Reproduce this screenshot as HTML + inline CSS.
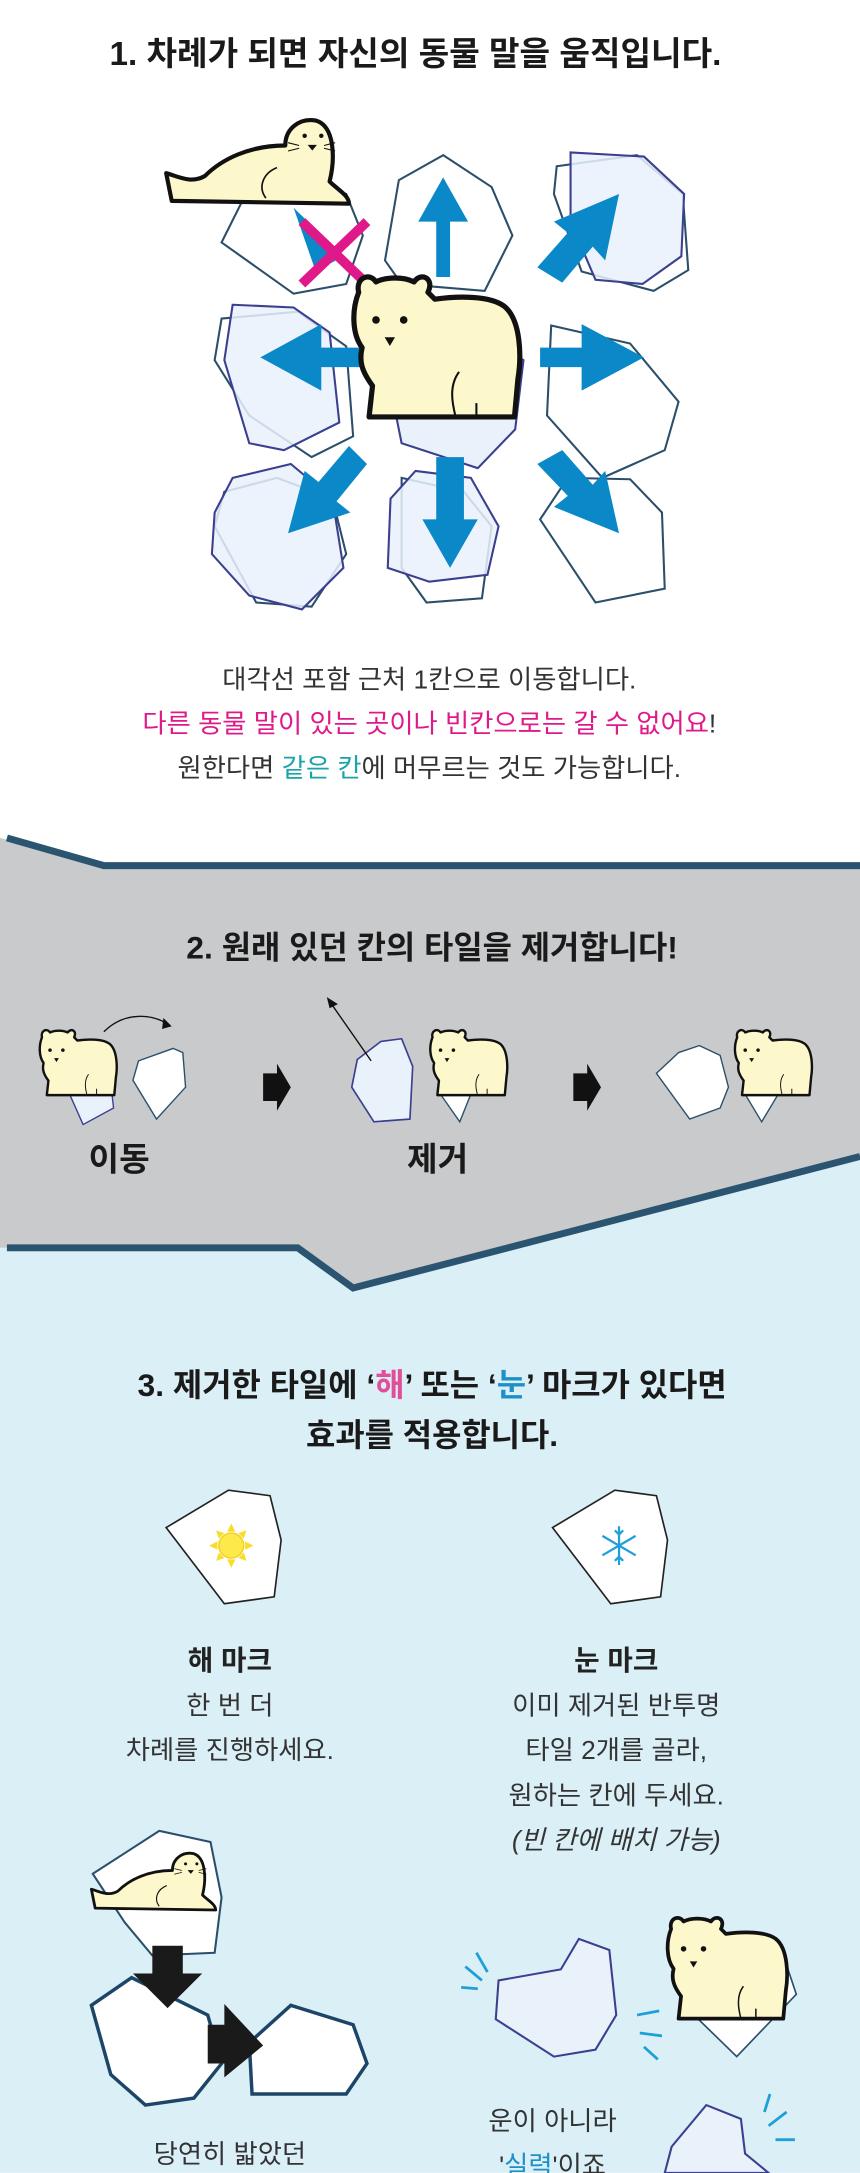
<!DOCTYPE html>
<html><head><meta charset="utf-8"><style>
html,body{margin:0;padding:0;background:#fff;}
svg{display:block;}
text{font-family:"Liberation Sans","Noto Sans CJK KR",sans-serif;}
</style></head><body>
<svg width="860" height="2173" viewBox="0 0 621 1569" xmlns="http://www.w3.org/2000/svg">
<defs>
<g id="bear">
<path d="M4,12 C2,4 10,0 14,6 C20,3 30,3 36,6 C40,0 48,4 44,12 L48,16 C62,14 80,14 88,20 C98,28 98,50 96,62 L94,84 L10,84 L12,66 C6,58 4,52 6,44 C0,36 0,22 4,12 Z" fill="#fdf7cc" stroke="#111" stroke-width="3" stroke-linejoin="round"/>
<circle cx="14" cy="28" r="2.2" fill="#111"/><circle cx="30" cy="28" r="2.2" fill="#111"/>
<path d="M19,38 l6,0 l-3,5z" fill="#111"/>
<path d="M62,58 C56,66 58,76 60,84 M72,76 L72,84" stroke="#111" stroke-width="1.2" fill="none"/>
</g>
<g id="seal">
<path d="M4,60 L0,40 C8,42 18,48 28,42 C40,30 60,20 86,20 C86,8 96,0 108,2 C122,6 122,30 118,46 C124,52 132,56 132,62 Z" fill="#fdf7cc" stroke="#111" stroke-width="3" stroke-linejoin="round"/>
<circle cx="100" cy="13" r="1.6" fill="#111"/><circle cx="112" cy="13" r="1.6" fill="#111"/>
<path d="M103,20 l5,0 l-2.5,3z M96,20 l-8,-2 M96,22 l-8,2 M114,20 l8,-2 M114,22 l8,2" stroke="#111" stroke-width="0.8" fill="#111"/>
<path d="M80,36 C70,40 66,50 72,58" stroke="#111" stroke-width="1.2" fill="none"/>
</g>
</defs>

<text x="300" y="47" text-anchor="middle" font-size="24" font-weight="bold" fill="#1a1a1a">1. 차례가 되면 자신의 동물 말을 움직입니다.</text>

<path d="M175,145 L222,130 L250,140 L262,170 L250,205 L212,212 L160,175 Z" fill="#fff" stroke="#2b4f6b" stroke-width="1.5"/>
<path d="M320,112 L355,135 L370,170 L350,210 L290,205 L278,188 L288,130 Z" fill="#fff" stroke="#2b4f6b" stroke-width="1.5"/>
<path d="M402,120 L460,112 L493,140 L497,195 L472,210 L420,196 L400,140 Z" fill="#fff" stroke="#2b4f6b" stroke-width="1.5"/>
<path d="M412,110 L465,113 L494,140 L492,185 L464,205 L430,202 L412,160 Z" fill="#e9f1fb" fill-opacity="0.85" stroke="#3b3f8f" stroke-width="1.5"/>
<path d="M160,230 L215,225 L250,250 L255,315 L225,330 L180,300 L155,260 Z" fill="#fff" stroke="#2b4f6b" stroke-width="1.5"/>
<path d="M168,220 L212,222 L238,240 L245,305 L205,325 L180,320 L162,260 Z" fill="#e9f1fb" fill-opacity="0.85" stroke="#3b3f8f" stroke-width="1.5"/>
<path d="M285,240 L340,235 L378,260 L372,310 L345,338 L290,320 L282,280 Z" fill="#e9f1fb" stroke="#3b3f8f" stroke-width="1.5"/>
<path d="M398,235 L455,248 L490,290 L480,325 L435,345 L395,300 Z" fill="#fff" stroke="#2b4f6b" stroke-width="1.5"/>
<path d="M162,355 L200,345 L240,360 L250,400 L225,438 L185,435 L155,380 Z" fill="#fff" stroke="#2b4f6b" stroke-width="1.5"/>
<path d="M168,345 L210,335 L240,360 L248,410 L218,440 L180,430 L153,400 L155,370 Z" fill="#e9f1fb" fill-opacity="0.85" stroke="#3b3f8f" stroke-width="1.5"/>
<path d="M290,345 L335,355 L355,380 L348,432 L308,435 L290,410 Z" fill="#fff" stroke="#2b4f6b" stroke-width="1.5"/>
<path d="M300,340 L340,345 L360,380 L352,415 L310,420 L280,410 L282,360 Z" fill="#e9f1fb" fill-opacity="0.85" stroke="#3b3f8f" stroke-width="1.5"/>
<path d="M410,345 L455,346 L478,370 L480,425 L430,435 L390,375 Z" fill="#fff" stroke="#2b4f6b" stroke-width="1.5"/>

<g fill="#0a88c8">
<polygon points="315,200 315,160 302,160 320,128 338,160 325,160 325,200"/>
<polygon points="263,265 232,265 232,282 188,258 232,234 232,251 263,251"/>
<polygon points="390,251 420,251 420,234 465,258 420,282 420,265 390,265"/>
<polygon points="315,330 335,330 335,375 345,375 325,410 305,375 315,375"/>
<polygon points="388,193 410,168 400,160 447,140 437,188 428,178 406,204"/>
<polygon points="265,335 243,362 253,370 208,385 220,340 230,348 252,322"/>
<polygon points="388,335 410,358 400,366 447,385 437,340 428,350 406,325"/>
<polygon points="212,150 228,196 248,185"/>
</g>
<path d="M218,160 L265,205 M265,160 L218,205" stroke="#e0198a" stroke-width="7"/>
<use href="#seal" transform="translate(120,85)"/>
<use href="#bear" transform="translate(254,196) scale(1.25)"/>

<text x="310" y="497" text-anchor="middle" font-size="19" fill="#333">대각선 포함 근처 1칸으로 이동합니다.</text>
<text x="310" y="529" text-anchor="middle" font-size="19" fill="#333"><tspan fill="#e0198a">다른 동물 말이 있는 곳이나 빈칸으로는 갈 수 없어요</tspan>!</text>
<text x="310" y="561" text-anchor="middle" font-size="19" fill="#333">원한다면 <tspan fill="#1aa3a8">같은 칸</tspan>에 머무르는 것도 가능합니다.</text>

<path d="M0,605 L75,625 L621,625 L621,835 L255,930 L215,901 L0,901 Z" fill="#c9cacc"/>
<path d="M0,930 L0,901 L215,901 L255,930 L621,835 L621,1569 L0,1569 Z" fill="#dbeff7"/>
<path d="M5,605 L75,625 L621,625" stroke="#2b5470" stroke-width="5" fill="none"/>
<path d="M5,901 L215,901 L255,930 L621,835" stroke="#2b5470" stroke-width="5" fill="none"/>

<text x="312" y="692" text-anchor="middle" font-size="23" font-weight="bold" fill="#1a1a1a">2. 원래 있던 칸의 타일을 제거합니다!</text>

<path d="M48,785 L60,760 L78,765 L82,800 L60,812 Z" fill="#e9f1fb" stroke="#3b3f8f" stroke-width="1"/>
<path d="M100,766 L125,757 L132,760 L134,785 L113,808 L96,780 Z" fill="#fff" stroke="#2b4f6b" stroke-width="1"/>
<use href="#bear" transform="translate(28,742) scale(0.58)"/>
<path d="M75,745 C90,730 110,732 122,740" stroke="#111" stroke-width="1" fill="none"/>
<path d="M118,735 L124,741 L117,743 Z" fill="#111"/>
<polygon points="190,775 200,775 200,768 210,785 200,802 200,795 190,795" fill="#111"/>
<polygon points="414,775 424,775 424,768 434,785 424,802 424,795 414,795" fill="#111"/>
<path d="M258,765 L275,752 L290,750 L298,770 L296,808 L270,810 L254,785 Z" fill="#e9f1fb" stroke="#3b3f8f" stroke-width="1.2"/>
<path d="M320,765 L338,770 L340,790 L332,810 L318,790 Z" fill="#fff" stroke="#2b4f6b" stroke-width="1"/>
<path d="M268,766 L238,723" stroke="#111" stroke-width="1"/>
<path d="M236,720 L244,725 L238,728 Z" fill="#111"/>
<use href="#bear" transform="translate(310,742) scale(0.58)"/>
<path d="M490,760 L505,755 L520,762 L526,785 L520,800 L498,808 L474,775 Z" fill="#fff" stroke="#2b4f6b" stroke-width="1"/>
<path d="M540,765 L560,772 L562,790 L550,810 L538,790 Z" fill="#fff" stroke="#2b4f6b" stroke-width="1"/>
<use href="#bear" transform="translate(530,742) scale(0.58)"/>

<text x="86" y="845" text-anchor="middle" font-size="24" font-weight="bold" fill="#1a1a1a">이동</text>
<text x="316" y="845" text-anchor="middle" font-size="24" font-weight="bold" fill="#1a1a1a">제거</text>

<text x="312" y="1008" text-anchor="middle" font-size="23" font-weight="bold" fill="#1a1a1a">3. 제거한 타일에 ‘<tspan fill="#e0509a">해</tspan>’ 또는 ‘<tspan fill="#1e90c8">눈</tspan>’ 마크가 있다면</text>
<text x="312" y="1044" text-anchor="middle" font-size="23" font-weight="bold" fill="#1a1a1a">효과를 적용합니다.</text>

<path d="M120,1103 L165,1076 L195,1080 L203,1112 L198,1153 L162,1158 Z" fill="#fff" stroke="#222" stroke-width="1.2"/>
<g transform="translate(167,1116)">
<circle r="9" fill="#fde94a" stroke="#f2cf20" stroke-width="1"/>
<g fill="#f8de2a"><polygon points="0,-16 3,-10 -3,-10"/><polygon points="0,16 3,10 -3,10"/><polygon points="-16,0 -10,3 -10,-3"/><polygon points="16,0 10,3 10,-3"/><polygon points="11,-11 9,-5 5,-9"/><polygon points="-11,11 -9,5 -5,9"/><polygon points="-11,-11 -5,-9 -9,-5"/><polygon points="11,11 5,9 9,5"/></g>
</g>
<path d="M399,1103 L444,1076 L474,1080 L482,1112 L477,1153 L441,1158 Z" fill="#fff" stroke="#222" stroke-width="1.2"/>
<g transform="translate(447,1116)" stroke="#1e9fd8" stroke-width="1.6" fill="none">
<path d="M0,-14 V14 M-12,-7 L12,7 M-12,7 L12,-7 M-3,-11 L0,-8 L3,-11 M-3,11 L0,8 L3,11"/>
</g>

<text x="166" y="1206" text-anchor="middle" font-size="20" font-weight="bold" fill="#222">해 마크</text>
<text x="166" y="1238" text-anchor="middle" font-size="19" fill="#333">한 번 더</text>
<text x="166" y="1270" text-anchor="middle" font-size="19" fill="#333">차례를 진행하세요.</text>

<text x="445" y="1206" text-anchor="middle" font-size="20" font-weight="bold" fill="#222">눈 마크</text>
<text x="445" y="1238" text-anchor="middle" font-size="19" fill="#333">이미 제거된 반투명</text>
<text x="445" y="1270" text-anchor="middle" font-size="19" fill="#333">타일 2개를 골라,</text>
<text x="445" y="1303" text-anchor="middle" font-size="19" fill="#333">원하는 칸에 두세요.</text>
<text x="445" y="1335" text-anchor="middle" font-size="19" font-style="italic" fill="#333">(빈 칸에 배치 가능)</text>

<path d="M67,1353 L115,1322 L152,1330 L160,1370 L155,1410 L110,1412 L90,1388 Z" fill="#fff" stroke="#2b4f6b" stroke-width="1.5"/>
<use href="#seal" transform="translate(66,1337) scale(0.68)"/>
<path d="M66,1448 L95,1428 L150,1455 L160,1490 L140,1515 L105,1520 L80,1498 Z" fill="#fff" stroke="#1d4568" stroke-width="2.5"/>
<path d="M180,1475 L210,1448 L255,1462 L265,1490 L250,1512 L182,1512 Z" fill="#fff" stroke="#1d4568" stroke-width="2.5"/>
<polygon points="110,1405 132,1405 132,1425 146,1425 121,1450 96,1425 110,1425" fill="#1a1a1a"/>
<polygon points="150,1462 162,1462 162,1447 190,1477 162,1500 162,1490 150,1490" fill="#1a1a1a"/>
<text x="166" y="1562" text-anchor="middle" font-size="19" fill="#333">당연히 밟았던</text>

<path d="M360,1430 L405,1422 L418,1400 L440,1408 L445,1455 L430,1480 L400,1485 L358,1458 Z" fill="#e9f1fb" stroke="#3b3f8f" stroke-width="1.5"/>
<path d="M494,1418 L565,1410 L575,1440 L532,1485 L494,1448 Z" fill="#fff" stroke="#2b4f6b" stroke-width="1.2"/>
<use href="#bear" transform="translate(481,1382) scale(0.9)"/>
<g stroke="#1e9fd8" stroke-width="2">
<path d="M336,1420 L348,1430 M333,1435 L345,1436 M344,1410 L352,1424"/>
<path d="M460,1455 L476,1452 M462,1468 L478,1470 M465,1478 L475,1487"/>
<path d="M555,1535 L568,1525 M560,1545 L574,1545 M552,1525 L556,1512"/>
</g>
<path d="M485,1550 L510,1520 L535,1530 L538,1555 L555,1569 L480,1569 Z" fill="#e9f1fb" stroke="#3b3f8f" stroke-width="1.5"/>
<text x="399" y="1538" text-anchor="middle" font-size="19" fill="#333">운이 아니라</text>
<text x="399" y="1570" text-anchor="middle" font-size="19" fill="#333">'<tspan fill="#1e90c8">실력</tspan>'이죠</text>
</svg>
</body></html>
